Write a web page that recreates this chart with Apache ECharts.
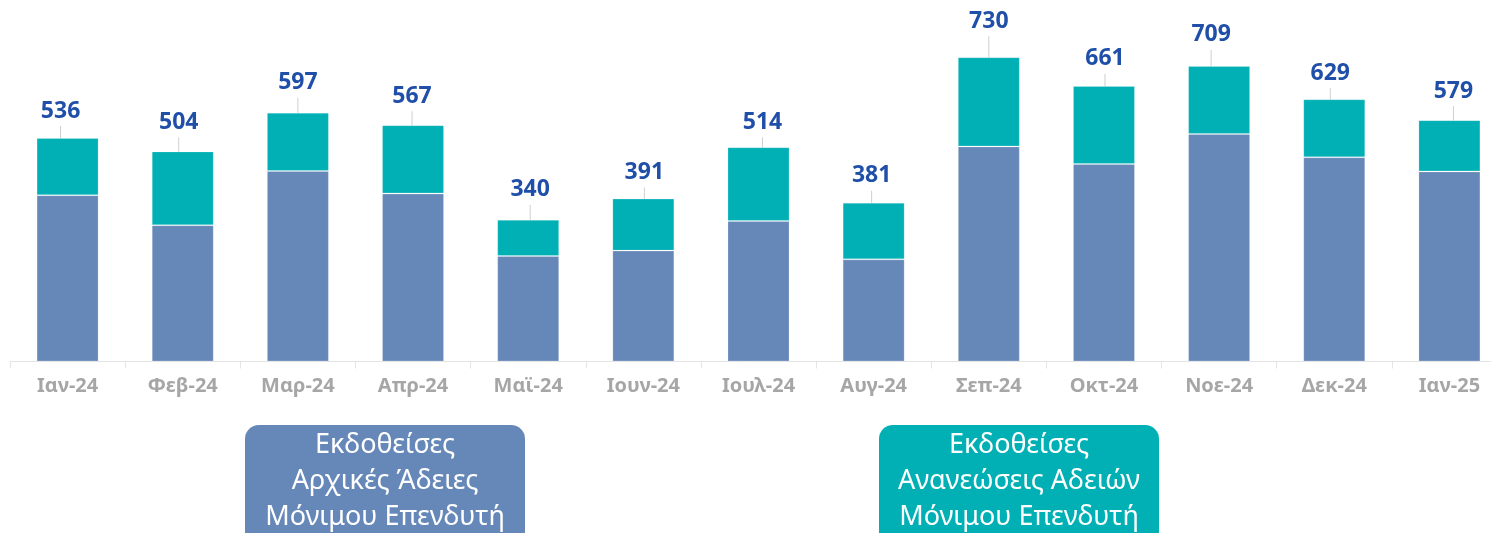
<!DOCTYPE html>
<html>
<head>
<meta charset="utf-8">
<script src="https://cdn.jsdelivr.net/npm/echarts@6/dist/echarts.min.js"></script>
<style>
  html, body { margin: 0; padding: 0; background: #fff; }
  #chart { width: 1491px; height: 533px; }
</style>
</head>
<body>
<div id="chart"></div>
<script>
// μήνες
const months = ['Ιαν-24', 'Φεβ-24', 'Μαρ-24', 'Απρ-24', 'Μαϊ-24', 'Ιουν-24', 'Ιουλ-24', 'Αυγ-24', 'Σεπ-24', 'Οκτ-24', 'Νοε-24', 'Δεκ-24', 'Ιαν-25']
// αρχικές άδειες (κάτω τμήμα)
const initialPermits = [399, 327, 457, 403, 253, 266, 337, 245, 516, 474, 546, 490, 456]
// σύνολα που γράφονται πάνω από κάθε στήλη
const totals = [536, 504, 597, 567, 340, 391, 514, 381, 730, 661, 709, 629, 579]
// ανανεώσεις = σύνολο - αρχικές
const renewals = totals.map((t, i) => t - initialPermits[i])

// callout placement of the total labels (px), as in the original
const labelNudge = [-7, -4, 0, -1, 2, 1, 4, -2, 0, 1, -8, -4, 4]
const labelLift = [27, 29, 30, 29, 30, 26, 25, 27, 36, 27, 31, 26, 29]

const FONT = '"Noto Sans", "Open Sans", sans-serif'
const BLUE = '#6688b8'
const TEAL = '#00b0b4'

const chart = echarts.init(document.getElementById('chart'))

const option = {
  animation: false,
  grid: { left: 10, top: 28, width: 1497, bottom: 171.5, outerBoundsMode: 'none', containLabel: false },
  xAxis: {
    type: 'category',
    data: months,
    axisLine: { lineStyle: { color: '#e4e4e4', width: 1 } },
    axisTick: { show: true, length: 7, lineStyle: { color: '#e4e4e4' } },
    axisLabel: {
      color: '#a6a6a6',
      fontFamily: FONT,
      fontWeight: 'bold',
      fontSize: 20,
      margin: 15
    }
  },
  yAxis: {
    type: 'value',
    min: 0,
    max: 800,
    show: false,
    splitLine: { show: false }
  },
  series: [
    {
      name: 'Εκδοθείσες Αρχικές Άδειες Μόνιμου Επενδυτή',
      type: 'bar',
      stack: 'total',
      barWidth: 62,
      data: initialPermits,
      itemStyle: { color: BLUE, borderColor: 'rgba(255,255,255,0.2)', borderWidth: 1 }
    },
    {
      name: 'Εκδοθείσες Ανανεώσεις Αδειών Μόνιμου Επενδυτή',
      type: 'bar',
      stack: 'total',
      barWidth: 62,
      data: renewals,
      itemStyle: { color: TEAL, borderColor: 'rgba(255,255,255,0.2)', borderWidth: 1 },
      label: {
        show: true,
        position: 'top',
        distance: 0,
        formatter: p => totals[p.dataIndex],
        color: '#1f4fa8',
        fontFamily: FONT,
        fontWeight: 'bold',
        fontSize: 23,
        lineHeight: 30
      },
      labelLine: {
        show: true,
        lineStyle: { color: '#cfcfcf', width: 1 }
      },
      labelLayout: params => ({
        dx: labelNudge[params.dataIndex],
        dy: -(labelLift[params.dataIndex] - 15)
      })
    }
  ],
  graphic: [
    {
      type: 'group',
      children: [
        {
          type: 'rect',
          shape: { x: 245, y: 425, width: 280, height: 125, r: 14 },
          style: { fill: BLUE }
        },
        {
          type: 'text',
          style: {
            x: 385,
            y: 427,
            text: 'Εκδοθείσες\nΑρχικές Άδειες\nΜόνιμου Επενδυτή',
            fill: '#fff',
            font: '27px ' + FONT,
            textAlign: 'center',
            textVerticalAlign: 'top',
            lineHeight: 36
          }
        }
      ]
    },
    {
      type: 'group',
      children: [
        {
          type: 'rect',
          shape: { x: 879, y: 425, width: 280, height: 125, r: 14 },
          style: { fill: TEAL }
        },
        {
          type: 'text',
          style: {
            x: 1019,
            y: 427,
            text: 'Εκδοθείσες\nΑνανεώσεις Αδειών\nΜόνιμου Επενδυτή',
            fill: '#fff',
            font: '27px ' + FONT,
            textAlign: 'center',
            textVerticalAlign: 'top',
            lineHeight: 36
          }
        }
      ]
    }
  ]
}

chart.setOption(option)
</script>
</body>
</html>
